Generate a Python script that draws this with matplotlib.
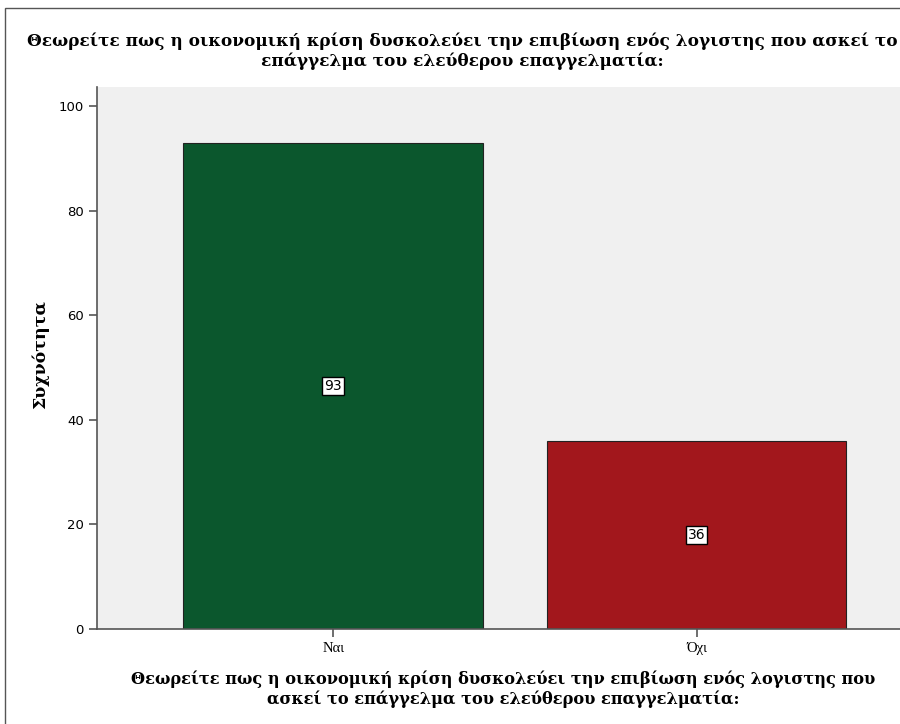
import matplotlib
matplotlib.use("Agg")
from matplotlib import pyplot as plt
from matplotlib.patches import Rectangle

# data
categories = ["Ναι", "Όχι"]
counts = [93, 36]
barColors = ["#0b572d", "#a2171c"]

titleText = ("Θεωρείτε πως η οικονομική κρίση δυσκολεύει την επιβίωση ενός λογιστης που ασκεί το\n"
             "επάγγελμα του ελεύθερου επαγγελματία:")
xLabelText = ("Θεωρείτε πως η οικονομική κρίση δυσκολεύει την επιβίωση ενός λογιστης που\n"
              "ασκεί το επάγγελμα του ελεύθερου επαγγελματία:")

W, H = 900, 724
fig = plt.figure(figsize=(W / 100, H / 100), dpi=100)
fig.patch.set_facecolor("white")

# outer frame (only left and top visible in the reference)
fig.patches.append(Rectangle((5 / W, -0.1), 1.2, (H - 8) / H + 0.1, transform=fig.transFigure,
                             fill=False, edgecolor="#555555", linewidth=1.0))

axLeft, axRight, axTop, axBottom = 97, 900, 87, 629
ax = fig.add_axes([axLeft / W, 1 - axBottom / H, (axRight - axLeft) / W, (axBottom - axTop) / H])
ax.set_facecolor("#f0f0f0")

xPos = list(range(len(categories)))
ax.bar(xPos, counts, width=0.825, color=barColors, edgecolor="#222222", linewidth=0.8, zorder=2)

for x, c in zip(xPos, counts):
    ax.text(x, c / 2, str(c), ha="center", va="center", fontsize=10, family="DejaVu Sans",
            bbox=dict(boxstyle="square,pad=0.15", facecolor="white", edgecolor="black", linewidth=1.0),
            zorder=3)

ax.set_xlim(-0.65, 1.56)
ax.set_ylim(0, 103.7)
ax.set_yticks([0, 20, 40, 60, 80, 100])
ax.set_xticks(xPos)
ax.set_xticklabels(categories, family="Liberation Serif", fontsize=10.5)
ax.tick_params(axis="y", labelsize=9.5, length=6, width=1.2, color="#555555", direction="out")
ax.tick_params(axis="x", length=6, width=1.2, color="#555555", direction="out")
for t in ax.get_yticklabels():
    t.set_family("DejaVu Sans")

ax.spines["top"].set_visible(False)
ax.spines["right"].set_visible(False)
ax.spines["left"].set_color("#555555")
ax.spines["bottom"].set_color("#555555")
ax.spines["left"].set_linewidth(1.2)
ax.spines["bottom"].set_linewidth(1.2)

fig.text((30 + 895) / 2 / W, 1 - 51 / H, titleText, ha="center", va="center",
         family="DejaVu Serif", fontweight="bold", fontsize=12.2, linespacing=1.15)
fig.text((133 + 873) / 2 / W, 1 - 689 / H, xLabelText, ha="center", va="center",
         family="DejaVu Serif", fontweight="bold", fontsize=11.7, linespacing=1.15)
fig.text(40 / W, 1 - 355 / H, "Συχνότητα", ha="center", va="center", rotation=90,
         family="DejaVu Serif", fontweight="bold", fontsize=12.5)

fig.savefig("out.png", dpi=100)
